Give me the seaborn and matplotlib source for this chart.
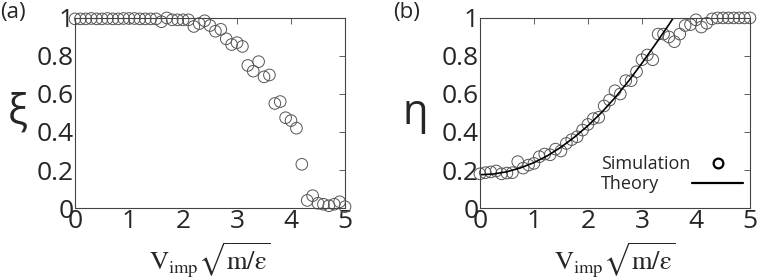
import numpy as np
import pandas as pd
import matplotlib
matplotlib.use('Agg')
import matplotlib.pyplot as plt
from matplotlib.lines import Line2D
import seaborn as sns

# impact velocity grid (0 to 5, step 0.1)
v_imp = [round(0.1 * i, 1) for i in range(51)]

# panel (a): xi from simulation
xi = [0.995, 0.995, 0.995, 0.997, 0.995, 0.995, 0.997, 0.995, 0.995, 0.997,
      0.997, 0.997, 0.995, 0.995, 0.995, 0.995, 0.98, 1.0, 0.99, 0.99,
      0.99, 0.99, 0.955, 0.97, 0.985, 0.96, 0.93, 0.94, 0.89, 0.86,
      0.87, 0.85, 0.75, 0.72, 0.77, 0.69, 0.70, 0.55, 0.56, 0.475,
      0.46, 0.42, 0.23, 0.04, 0.065, 0.025, 0.02, 0.012, 0.02, 0.033,
      0.007]

# panel (b): eta from simulation
eta = [0.18, 0.186, 0.19, 0.195, 0.18, 0.184, 0.186, 0.244, 0.21, 0.226,
       0.235, 0.27, 0.284, 0.28, 0.31, 0.30, 0.34, 0.36, 0.375, 0.41,
       0.44, 0.47, 0.477, 0.537, 0.568, 0.617, 0.60, 0.67, 0.67, 0.717,
       0.78, 0.805, 0.78, 0.915, 0.915, 0.9, 0.875, 0.915, 0.96, 0.965,
       0.99, 0.952, 0.972, 0.995, 1.0, 1.0, 1.0, 1.0, 1.0, 1.0, 1.0]

# theory curve
v_theory = [0, 0.25, 0.5, 0.75, 1.0, 1.25, 1.5, 1.75, 2.0, 2.25, 2.5, 2.75,
            3.0, 3.25, 3.5, 3.58]
eta_theory = [0.175, 0.179, 0.191, 0.211, 0.239, 0.275, 0.32, 0.373, 0.433,
              0.502, 0.58, 0.667, 0.762, 0.862, 0.965, 1.0]

sim = pd.DataFrame({'v': v_imp, 'xi': xi, 'eta': eta})
theory = pd.DataFrame({'v': v_theory, 'eta': eta_theory})

sns.set_style('white')
plt.rcParams['font.family'] = ['Open Sans', 'DejaVu Sans']
plt.rcParams['mathtext.fontset'] = 'stix'

fig = plt.figure(figsize=(7.63, 2.8), dpi=100)
ax1 = fig.add_axes([0.0983, 0.257, 0.3539, 0.679])
ax2 = fig.add_axes([0.629, 0.257, 0.3539, 0.679])

edge = '#555555'
sns.scatterplot(data=sim, x='v', y='xi', ax=ax1, marker='o', s=70,
                facecolor='none', edgecolor=edge, linewidth=0.7, clip_on=False,
                legend=False)
sns.scatterplot(data=sim, x='v', y='eta', ax=ax2, marker='o', s=70,
                facecolor='none', edgecolor=edge, linewidth=0.7, clip_on=False,
                legend=False)
sns.lineplot(data=theory, x='v', y='eta', ax=ax2, color='black', lw=1.2,
             legend=False)

xlab = r'$\mathrm{V_{imp}}\sqrt{\mathrm{m/ε}}$'
for ax, ylab, yx in [(ax1, 'ξ', -0.211), (ax2, 'η', -0.241)]:
    ax.set_xlim(0, 5)
    ax.set_ylim(0, 1)
    ax.set_xticks([0, 1, 2, 3, 4, 5])
    ax.set_yticks([0, 0.2, 0.4, 0.6, 0.8, 1])
    ax.set_xticklabels(['0', '1', '2', '3', '4', '5'])
    ax.set_yticklabels(['0', '0.2', '0.4', '0.6', '0.8', '1'])
    ax.tick_params(direction='in', length=4, width=0.6, color='#444444',
                   top=True, right=True, labelsize=19, pad=1)
    for s in ax.spines.values():
        s.set_color('#444444')
        s.set_linewidth(0.8)
    ax.set_xlabel(xlab, fontsize=19, va='center')
    ax.xaxis.set_label_coords(0.5, -0.27)
    ax.set_ylabel(ylab, fontsize=30, rotation=0, ha='center', va='center')
    ax.yaxis.set_label_coords(yx, 0.5)

# legend: text left aligned, handles right aligned (two legends)
fs = 13
renderer = fig.canvas.get_renderer()
widths = {}
for lab in ['Simulation', 'Theory']:
    t = fig.text(0, 0, lab, fontsize=fs)
    widths[lab] = t.get_window_extent(renderer).width
    t.remove()
fs_px = fs * 100 / 72
pad = 0.1
sim_handle = Line2D([], [], marker='o', ls='', mfc='none', mec='black',
                    mew=1.6, ms=7)
th_handle = Line2D([], [], color='black', lw=1.6)
legA = ax2.legend([sim_handle], ['Simulation'], loc='lower right',
                  bbox_to_anchor=(0.974, 0.184), frameon=False,
                  markerfirst=False, fontsize=fs, handlelength=2.8,
                  handletextpad=pad, borderpad=0, borderaxespad=0)
ax2.add_artist(legA)
ax2.legend([th_handle], ['Theory'], loc='lower right',
           bbox_to_anchor=(0.974, 0.079), frameon=False,
           markerfirst=False, fontsize=fs, handlelength=2.8,
           handletextpad=pad + (widths['Simulation'] - widths['Theory']) / fs_px,
           borderpad=0, borderaxespad=0)

fig.text(0.0, 0.955, '(a)', fontsize=16, va='center')
fig.text(0.515, 0.955, '(b)', fontsize=16, va='center')

plt.savefig('out.png', dpi=100)
